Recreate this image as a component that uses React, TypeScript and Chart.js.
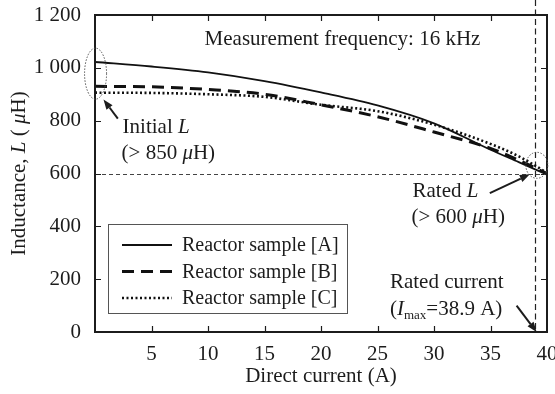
import React, { useEffect, useRef } from 'react';
import { Chart, registerables } from 'chart.js';

Chart.register(...registerables);

// ---- data ----
const current = [0, 5, 10, 15, 20, 25, 30, 35, 37.5, 40];
const sampleA = [1022, 1005, 983, 950, 907, 858, 790, 690, 643, 596];
const sampleB = [930, 928, 918, 900, 860, 815, 757, 695, 650, 600];
const sampleC = [906, 905, 900, 890, 860, 836, 785, 712, 665, 603];
const seriesLabels = ['Reactor sample [A]', 'Reactor sample [B]', 'Reactor sample [C]'];
const ratedL = 600;
const ratedCurrent = 38.9;
const xMin = 0, xMax = 40, xStep = 5;
const yMin = 0, yMax = 1200, yStep = 200;

const FONT = '"Liberation Serif", "Times New Roman", serif';
const INK = '#1c1c1c';

type Part = [string, 'n' | 'i' | 'sub'];

function drawRich(ctx: CanvasRenderingContext2D, x: number, y: number, parts: Part[], size: number, align: 'left' | 'center' = 'left') {
  const fontFor = (s: string) => s === 'i' ? `italic ${size}px ${FONT}` : s === 'sub' ? `${Math.round(size * 0.62)}px ${FONT}` : `${size}px ${FONT}`;
  let total = 0;
  for (const [t, s] of parts) { ctx.font = fontFor(s); total += ctx.measureText(t).width; }
  let cx = align === 'center' ? x - total / 2 : x;
  ctx.textAlign = 'left';
  ctx.textBaseline = 'alphabetic';
  for (const [t, s] of parts) {
    ctx.font = fontFor(s);
    ctx.fillText(t, cx, s === 'sub' ? y + size * 0.15 : y);
    cx += ctx.measureText(t).width;
  }
}

function arrow(ctx: CanvasRenderingContext2D, x1: number, y1: number, x2: number, y2: number) {
  const ang = Math.atan2(y2 - y1, x2 - x1);
  const hl = 10, hw = 3.8;
  const bx = x2 - hl * Math.cos(ang), by = y2 - hl * Math.sin(ang);
  ctx.setLineDash([]);
  ctx.lineWidth = 2;
  ctx.beginPath(); ctx.moveTo(x1, y1); ctx.lineTo(bx, by); ctx.stroke();
  ctx.beginPath();
  ctx.moveTo(x2, y2);
  ctx.lineTo(bx + hw * Math.sin(ang), by - hw * Math.cos(ang));
  ctx.lineTo(bx - hw * Math.sin(ang), by + hw * Math.cos(ang));
  ctx.closePath(); ctx.fill();
}

const overlay = {
  id: 'overlay',
  beforeDatasetsDraw(chart: any) {
    const { ctx, chartArea: a, scales } = chart;
    const x = scales.x, y = scales.y;
    ctx.save();
    ctx.strokeStyle = '#444';
    ctx.lineWidth = 1;
    ctx.setLineDash([4, 3]);
    const yr = Math.round(y.getPixelForValue(ratedL)) + 0.5;
    ctx.beginPath(); ctx.moveTo(a.left, yr); ctx.lineTo(a.right, yr); ctx.stroke();
    const xr = Math.round(x.getPixelForValue(ratedCurrent)) + 0.5;
    ctx.strokeStyle = '#222';
    ctx.lineWidth = 1.2;
    ctx.setLineDash([6, 3.5]);
    ctx.beginPath(); ctx.moveTo(xr, 0); ctx.lineTo(xr, a.bottom); ctx.stroke();
    ctx.restore();
  },
  afterDatasetsDraw(chart: any) {
    const { ctx, chartArea: a, scales } = chart;
    const x = scales.x, y = scales.y;
    const px = (v: number) => x.getPixelForValue(v);
    const py = (v: number) => y.getPixelForValue(v);
    ctx.save();
    ctx.fillStyle = INK;
    ctx.strokeStyle = INK;

    // frame
    ctx.setLineDash([]);
    ctx.lineWidth = 2;
    ctx.strokeRect(a.left, a.top, a.right - a.left, a.bottom - a.top);

    // inward ticks on all four sides
    ctx.lineWidth = 1.2;
    const tl = 6;
    for (let v = xMin + xStep; v < xMax; v += xStep) {
      const p = Math.round(px(v)) + 0.5;
      ctx.beginPath();
      ctx.moveTo(p, a.bottom); ctx.lineTo(p, a.bottom - tl);
      ctx.moveTo(p, a.top); ctx.lineTo(p, a.top + tl);
      ctx.stroke();
    }
    for (let v = yMin + yStep; v < yMax; v += yStep) {
      const p = Math.round(py(v)) + 0.5;
      ctx.beginPath();
      ctx.moveTo(a.left, p); ctx.lineTo(a.left + tl, p);
      ctx.moveTo(a.right, p); ctx.lineTo(a.right - tl, p);
      ctx.stroke();
    }

    // dotted ellipses
    ctx.strokeStyle = '#555';
    ctx.lineWidth = 1;
    ctx.setLineDash([1.5, 1.5]);
    ctx.beginPath(); ctx.ellipse(px(0.05), py(978), 11, 25.5, 0, 0, Math.PI * 2); ctx.stroke();
    ctx.beginPath(); ctx.ellipse(px(39.1), py(631), 11, 13, 0, 0, Math.PI * 2); ctx.stroke();

    // arrows
    ctx.strokeStyle = INK;
    arrow(ctx, px(2.02), py(808), px(0.75), py(880));
    arrow(ctx, px(34.94), py(526), px(38.48), py(597));
    arrow(ctx, px(37.31), py(100), px(39.08), py(0));

    // annotation texts
    const fs = 21;
    drawRich(ctx, px(9.7), py(1086), [['Measurement frequency: 16 kHz', 'n']], fs);
    drawRich(ctx, px(2.44), py(752), [['Initial ', 'n'], ['L', 'i']], fs);
    drawRich(ctx, px(2.35), py(654), [['(> 850 ', 'n'], ['\u03bc', 'i'], ['H)', 'n']], fs);
    drawRich(ctx, px(28.1), py(510), [['Rated ', 'n'], ['L', 'i']], fs);
    drawRich(ctx, px(28.0), py(411), [['(> 600 ', 'n'], ['\u03bc', 'i'], ['H)', 'n']], fs);
    drawRich(ctx, px(26.1), py(165), [['Rated current', 'n']], fs);
    drawRich(ctx, px(26.1), py(63), [['(', 'n'], ['I', 'i'], ['max', 'sub'], ['=38.9 A)', 'n']], fs);

    // legend
    const lx = a.left + 13, ly = a.top + 209, lw = 239, lh = 89;
    ctx.fillStyle = '#fff';
    ctx.fillRect(lx, ly, lw, lh);
    ctx.strokeStyle = '#555';
    ctx.lineWidth = 1;
    ctx.setLineDash([]);
    ctx.strokeRect(lx + 0.5, ly + 0.5, lw, lh);
    ctx.fillStyle = INK;
    chart.data.datasets.forEach((ds: any, i: number) => {
      const ry = ly + 21 + i * 26.5;
      ctx.strokeStyle = ds.borderColor;
      ctx.lineWidth = ds.borderWidth;
      ctx.setLineDash(ds.borderDash || []);
      ctx.beginPath(); ctx.moveTo(lx + 14, ry); ctx.lineTo(lx + 64, ry); ctx.stroke();
      ctx.font = `20px ${FONT}`;
      ctx.textAlign = 'left';
      ctx.textBaseline = 'middle';
      ctx.fillText(ds.label, lx + 74, ry + 1);
    });

    // axis titles
    ctx.fillStyle = INK;
    drawRich(ctx, (a.left + a.right) / 2, 382, [['Direct current (A)', 'n']], 21, 'center');
    ctx.save();
    ctx.translate(25, (a.top + a.bottom) / 2);
    ctx.rotate(-Math.PI / 2);
    drawRich(ctx, 0, 0, [['Inductance, ', 'n'], ['L', 'i'], [' ( ', 'n'], ['\u03bc', 'i'], ['H)', 'n']], 21, 'center');
    ctx.restore();

    ctx.restore();
  },
};

export default function App() {
  const ref = useRef<HTMLCanvasElement>(null);
  useEffect(() => {
    if (!ref.current) return;
    const mk = (label: string, vals: number[], width: number, dash: number[]) => ({
      label,
      data: current.map((c, i) => ({ x: c, y: vals[i] })),
      borderColor: '#111',
      backgroundColor: '#111',
      borderWidth: width,
      borderDash: dash,
      pointRadius: 0,
      fill: false,
      cubicInterpolationMode: 'monotone' as const,
    });
    const chart = new Chart(ref.current, {
      type: 'line',
      data: {
        datasets: [
          mk(seriesLabels[0], sampleA, 1.8, []),
          mk(seriesLabels[1], sampleB, 3, [12, 7]),
          mk(seriesLabels[2], sampleC, 2.6, [2, 2.5]),
        ],
      },
      options: {
        responsive: false,
        animation: false,
        layout: { padding: { left: 0, top: 15, right: 8, bottom: 0 } },
        plugins: { legend: { display: false }, tooltip: { enabled: false } },
        scales: {
          x: {
            type: 'linear',
            min: xMin,
            max: xMax,
            grid: { display: false, drawTicks: false },
            border: { display: false },
            ticks: {
              stepSize: xStep,
              padding: 10,
              color: INK,
              font: { family: FONT, size: 21 },
              maxRotation: 0,
              callback: (v: any) => (v === 0 ? '' : String(v)),
            },
            afterFit: (s: any) => { s.height = 62; s.paddingLeft = 0; s.paddingRight = 0; },
          },
          y: {
            type: 'linear',
            min: yMin,
            max: yMax,
            grid: { display: false, drawTicks: false },
            border: { display: false },
            ticks: {
              stepSize: yStep,
              padding: 14,
              color: INK,
              font: { family: FONT, size: 21 },
              callback: (v: any) => (v >= 1000 ? `${Math.floor(v / 1000)} ${String(v % 1000).padStart(3, '0')}` : String(v)),
            },
            afterFit: (s: any) => { s.width = 95; s.paddingTop = 0; s.paddingBottom = 0; },
          },
        },
      },
      plugins: [overlay],
    });
    return () => chart.destroy();
  }, []);
  return (
    <div style={{ position: 'absolute', left: 0, top: 0, width: 555, height: 394, background: '#fff' }}>
      <canvas ref={ref} width={555} height={394} />
    </div>
  );
}
